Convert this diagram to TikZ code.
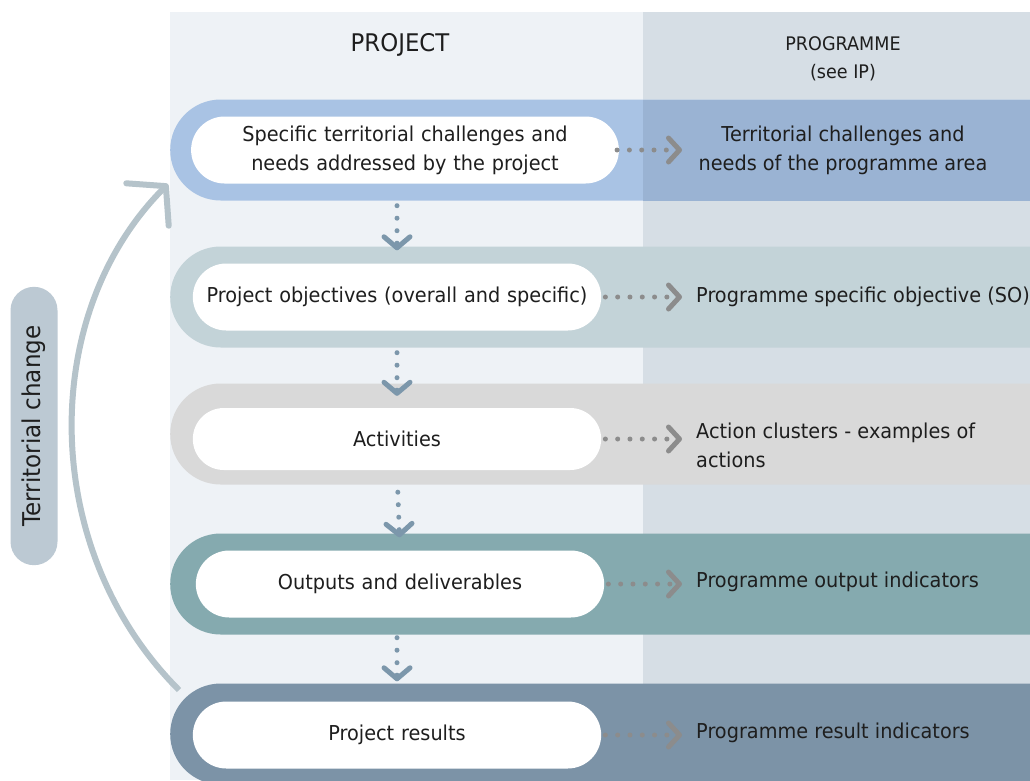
\documentclass[tikz,border=0pt]{standalone}
\usepackage{fontspec}
\setmainfont{DejaVu Sans}[FakeStretch=0.94]
\usepackage{tikz}
\usetikzlibrary{shapes.misc, arrows.meta, positioning}

\definecolor{colproject}{HTML}{EEF2F6}
\definecolor{colprogramme}{HTML}{D6DEE5}
\definecolor{bandone}{HTML}{A9C3E4}
\definecolor{bandonedark}{HTML}{9AB3D3}
\definecolor{bandtwo}{HTML}{C3D3D8}
\definecolor{bandthree}{HTML}{D9D9D9}
\definecolor{bandfour}{HTML}{85AAAF}
\definecolor{bandfive}{HTML}{7C93A7}
\definecolor{tcfill}{HTML}{BCC9D3}
\definecolor{cyclegray}{HTML}{B5C3CA}
\definecolor{downblue}{HTML}{7C97AB}
\definecolor{rightgray}{HTML}{8C8C8C}
\definecolor{txt}{HTML}{1E1E1E}

\tikzset{
  band/.style = {
    rounded rectangle,
    rounded rectangle right arc=none,
    minimum width=860pt,
    minimum height=101pt,
    inner sep=0pt,
    anchor=west
  },
  pill/.style = {
    rounded rectangle,
    fill=white,
    minimum width=415pt,
    minimum height=67pt,
    text width=400pt,
    align=center,
    text=txt,
    font=\fontsize{20.5}{29}\selectfont
  },
  progtext/.style = {
    anchor=west,
    align=left,
    inner sep=0pt,
    text=txt,
    font=\fontsize{20.5}{29}\selectfont
  },
  header/.style = {
    align=center,
    text=txt
  },
  darrow/.style = {
    draw=downblue,
    line width=5pt,
    line cap=round,
    dash pattern=on 0pt off 12.5pt,
    -{Straight Barb[round, length=11pt, width=26pt, line width=5pt]}
  },
  rarrow/.style = {
    draw=rightgray,
    line width=5pt,
    line cap=round,
    dash pattern=on 0pt off 12.3pt,
    -{Straight Barb[round, length=11pt, width=24pt, line width=5pt]}
  },
  cyclearrow/.style = {
    draw=cyclegray,
    line width=6pt,
    -{Straight Barb[round, length=26pt, width=60pt, line width=6pt]}
  }
}

\begin{document}
\begin{tikzpicture}[x=1pt, y=-1pt]

\clip (0,0) rectangle (1030,780);
\fill[white] (0,0) rectangle (1030,780);

% ===== Colunas =====
\fill[colproject] (170,12) rectangle (643,780);
\fill[colprogramme] (643,12) rectangle (1030,780);

\node[header, font=\fontsize{24.3}{28}\selectfont] (hproj) at (400,45) {PROJECT};
\node[header, font=\fontsize{18.7}{28}\selectfont] (hprog) at (843,59) {PROGRAMME\\(see IP)};

% ===== Faixas =====
\node[band, fill=bandone] (b1) at (170,150) {};
\fill[bandonedark] (643,99.5) rectangle (1030,200.5);
\node[band, fill=bandtwo] (b2) at (170,297) {};
\node[band, fill=bandthree] (b3) at (170,434) {};
\node[band, fill=bandfour] (b4) at (170,584) {};
\node[band, fill=bandfive] (b5) at (170,734) {};

% ===== Projeto (esquerda) =====
\node[pill] (pill1) at (405,150) {Specific territorial challenges and\\needs addressed by the project};
\node[pill] (pill2) at (397,297) {Project objectives (overall and specific)};
\node[pill, minimum height=62pt] (pill3) at (397,439) {Activities};
\node[pill] (pill4) at (400,584) {Outputs and deliverables};
\node[pill] (pill5) at (397,735) {Project results};

% ===== Programa (direita) =====
\node[progtext, anchor=center, align=center] (prog1) at (843,150) {Territorial challenges and\\needs of the programme area};
\node[progtext] (prog2) at (696,297) {Programme specific objective (SO)};
\node[progtext] (prog3) at (696,445) {Action clusters - examples of\\actions};
\node[progtext] (prog4) at (696,582) {Programme output indicators};
\node[progtext] (prog5) at (696,733) {Programme result indicators};

% ===== Setas (descendo) =====
\draw[darrow, shorten <=22pt, shorten >=13pt] (pill1.south -| pill2.north) -- (pill2.north);
\draw[darrow, shorten <=22pt, shorten >=12pt] (pill2.south) -- (pill3.north);
\draw[darrow, shorten <=22pt, shorten >=13pt] (pill3.south) -- (pill4.north);
\draw[darrow, shorten <=20pt, shorten >=20pt] (pill4.south -| pill5.north) -- (pill5.north);

% ===== Setas (projeto -> programa) =====
\draw[rarrow, shorten <=-2pt, shorten >=14pt] (pill1.east) -- (pill1.east -| prog2.west);
\draw[rarrow, shorten <=4pt, shorten >=14pt] (pill2.east) -- (pill2.east -| prog2.west);
\draw[rarrow, shorten <=4pt, shorten >=14pt] (pill3.east) -- (pill3.east -| prog3.west);
\draw[rarrow, shorten <=4pt, shorten >=14pt] (pill4.east) -- (pill4.east -| prog4.west);
\draw[rarrow, shorten <=4pt, shorten >=14pt] (pill5.east) -- (pill5.east -| prog5.west);

% ===== Mudanca territorial =====
\node[rounded rectangle, fill=tcfill, rotate=90, minimum width=285pt, minimum height=47pt,
      text=txt, font=\fontsize{24.5}{28}\selectfont] (tc) at (34,426) {Territorial change};

\coordinate (cyclefrom) at (179,690);
\coordinate (cycleto) at (168,184);
\draw[cyclearrow] (cyclefrom) .. controls +(-140,-140) and +(-130,130) .. (cycleto);

\end{tikzpicture}
\end{document}
